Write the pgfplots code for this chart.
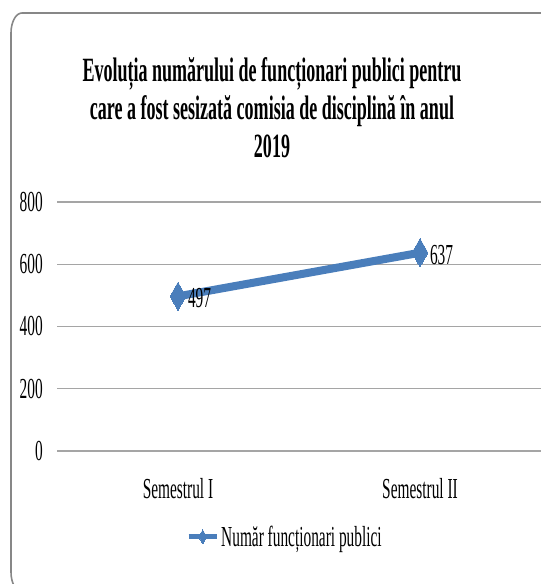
\documentclass[border=0pt]{standalone}
\usepackage{pgfplots}
\pgfplotsset{compat=1.18}
\usepackage{fontspec}
\setmainfont{Liberation Serif}
% condensed serif used for all chart text
\newfontfamily\narrowserif[FakeStretch=0.53]{Liberation Serif}
\definecolor{seriesblue}{RGB}{74,126,187}
\definecolor{gridgray}{RGB}{165,165,165}
\definecolor{framegray}{RGB}{135,135,135}

\begin{document}
\begin{tikzpicture}[x=1bp,y=1bp]
\useasboundingbox (0,0) rectangle (541,584);
\clip (0,0) rectangle (541,584);
% chart frame with rounded corners
\draw[framegray, line width=1.6bp]
  (570,571) -- (22,571)
  arc[start angle=90, end angle=180, x radius=11, y radius=20]
  -- (11,12)
  arc[start angle=180, end angle=270, x radius=11, y radius=20]
  -- (570,-8);
% title
\node[font=\narrowserif\bfseries\fontsize{34bp}{38bp}\selectfont, align=center]
  at (272,476) {Evoluția numărului de funcționari publici pentru\\
  care a fost sesizată comisia de disciplină în anul\\ 2019};
\begin{axis}[
  at={(57bp,133bp)}, anchor=south west,
  scale only axis, width=484bp, height=249bp,
  xmin=-0.5, xmax=1.5, ymin=0, ymax=800,
  ytick={0,200,400,600,800},
  xtick={0,1}, xticklabels={Semestrul I, Semestrul II},
  /pgf/number format/assume math mode=true,
  ymajorgrids, grid style={gridgray, line width=1.4bp},
  axis line style={draw=none},
  major tick length=0pt,
  clip=false,
  ticklabel style={font=\narrowserif\fontsize{29bp}{32bp}\selectfont},
  yticklabel style={inner sep=0pt, xshift=-14bp},
  xticklabel style={inner sep=0pt, yshift=-27bp, anchor=north},
  legend style={at={(0.471,-0.345)}, anchor=center, draw=none, fill=none,
    font=\narrowserif\fontsize{29bp}{32bp}\selectfont,
    /tikz/every even column/.append style={column sep=2bp}},
  legend image code/.code={
    \draw[#1, line width=5bp, mark size=7bp, mark repeat=2, mark phase=2]
      plot coordinates {(0bp,0bp) (14bp,0bp) (28bp,0bp)};},
  nodes near coords,
  nodes near coords style={anchor=west, xshift=9bp, yshift=-2bp, inner sep=1bp,
    text=black, font=\narrowserif\fontsize{29bp}{32bp}\selectfont},
]
\addplot[seriesblue, line width=8bp, mark=diamond*, mark size=14bp,
  mark options={xscale=0.75, line width=0pt, fill=seriesblue}]
  coordinates {(0,497) (1,637)};
\addlegendentry{Număr funcționari publici}
\end{axis}
\end{tikzpicture}
\end{document}
